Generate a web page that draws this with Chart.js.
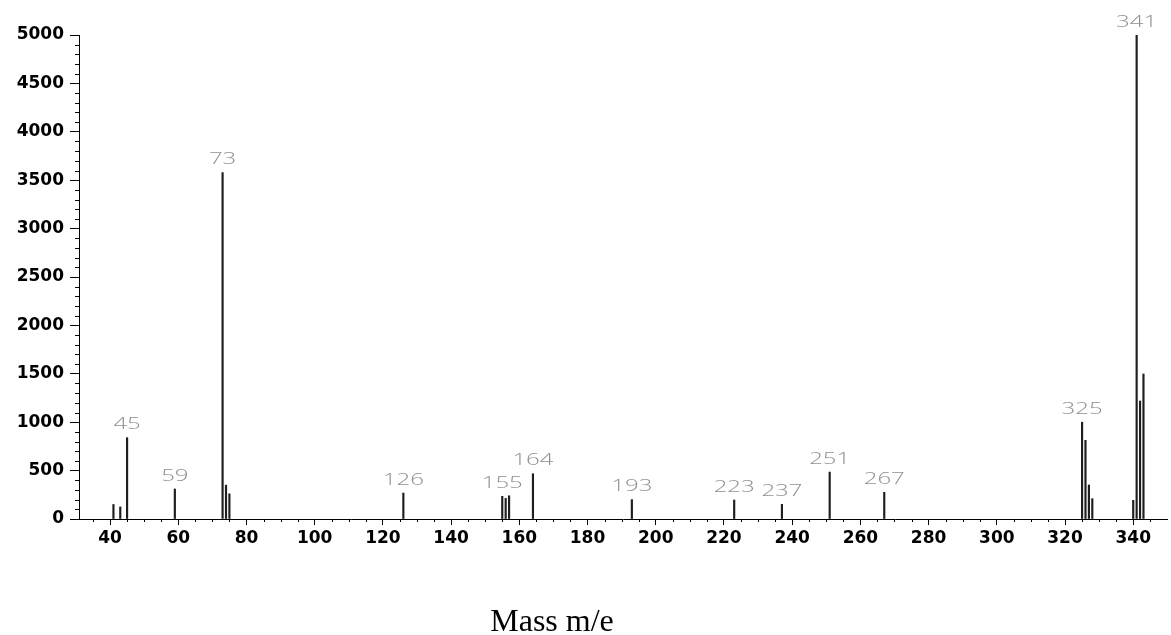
<!DOCTYPE html>
<html><head><meta charset="utf-8">
<script src="https://cdn.jsdelivr.net/npm/chart.js@4/dist/chart.umd.min.js"></script>
<style>html,body{margin:0;padding:0;background:#fff}#wrap{width:1171px;height:635px;position:relative}</style>
</head><body><div id="wrap"><canvas id="c" width="1171" height="635"></canvas></div>
<script>
// ---- data ----
const massValues  = [41, 43, 45, 59, 73, 74, 75, 126, 155, 156, 157, 164, 193, 223, 237, 251, 267, 325, 326, 327, 328, 340, 341, 342, 343];
const intensities = [150, 125, 840, 310, 3580, 350, 260, 268, 234, 213, 240, 468, 200, 196, 152, 485, 276, 1000, 813, 351, 210, 193, 5000, 1219, 1498];
const labelledMasses = [45, 59, 73, 126, 155, 164, 193, 223, 237, 251, 267, 325, 341];
const xTickLabels = [40, 60, 80, 100, 120, 140, 160, 180, 200, 220, 240, 260, 280, 300, 320, 340];
const yTickLabels = [0, 500, 1000, 1500, 2000, 2500, 3000, 3500, 4000, 4500, 5000];
const xTitle = 'Mass m/e';

const minorTicks = {
  id: 'minorTicks',
  afterDraw(chart) {
    const ctx = chart.ctx, xs = chart.scales.x, ys = chart.scales.y;
    ctx.save();
    ctx.strokeStyle = '#000'; ctx.lineWidth = 1;
    ctx.beginPath();
    for (let v = 35; v <= 345; v += 5) {
      if (v % 20 === 0) continue;
      const px = Math.round(xs.getPixelForValue(v)) + 0.5;
      ctx.moveTo(px, xs.top); ctx.lineTo(px, xs.top + 3);
    }
    for (let v = 100; v < 5000; v += 100) {
      if (v % 500 === 0) continue;
      const py = Math.round(ys.getPixelForValue(v)) + 0.5;
      ctx.moveTo(ys.right, py); ctx.lineTo(ys.right - 4, py);
    }
    ctx.stroke();
    ctx.restore();
  }
};

const peakLabels = {
  id: 'peakLabels',
  afterDatasetsDraw(chart) {
    const ctx = chart.ctx, xs = chart.scales.x, ys = chart.scales.y;
    ctx.save();
    ctx.fillStyle = '#8f8f8f';
    ctx.font = '300 16px "Open Sans"';
    ctx.textAlign = 'center';
    ctx.textBaseline = 'middle';
    labelledMasses.forEach(m => {
      const i = massValues.indexOf(m);
      const px = xs.getPixelForValue(m);
      const py = ys.getPixelForValue(intensities[i]) - 13;
      ctx.save();
      ctx.translate(px, py);
      ctx.scale(1.5, 1);
      ctx.fillText(String(m), 0, 0);
      ctx.restore();
    });
    ctx.restore();
  }
};

const axisTitle = {
  id: 'axisTitle',
  afterDraw(chart) {
    const ctx = chart.ctx;
    ctx.save();
    ctx.fillStyle = '#000';
    ctx.font = '32px "Liberation Serif"';
    ctx.textAlign = 'center';
    ctx.textBaseline = 'alphabetic';
    ctx.fillText(xTitle, 552, 631);
    ctx.restore();
  }
};

new Chart(document.getElementById('c'), {
  type: 'bar',
  data: {
    datasets: [{
      data: massValues.map((m, i) => ({ x: m, y: intensities[i] })),
      backgroundColor: '#1e1e1e',
      borderWidth: 0,
      barThickness: 1.5
    }]
  },
  options: {
    responsive: false,
    animation: false,
    devicePixelRatio: 1,
    layout: { padding: { top: 35, right: 4, left: 0, bottom: 0 } },
    plugins: { legend: { display: false }, tooltip: { enabled: false } },
    scales: {
      x: {
        type: 'linear',
        min: 30.9, max: 349.9,
        offset: false,
        afterBuildTicks: s => { s.ticks = xTickLabels.map(v => ({ value: v })); },
        afterFit: s => { s.height = 116; },
        ticks: { font: { family: 'DejaVu Sans', size: 17, weight: 'bold' }, color: '#000', padding: 3, maxRotation: 0, autoSkip: false, callback: v => String(v) },
        grid: { display: true, drawOnChartArea: false, drawTicks: true, tickLength: 6, color: '#000', offset: false },
        border: { display: true, color: '#000', width: 1 }
      },
      y: {
        type: 'linear',
        min: 0, max: 5000,
        afterBuildTicks: s => { s.ticks = yTickLabels.map(v => ({ value: v })); },
        afterFit: s => { s.width = 79; },
        ticks: { font: { family: 'DejaVu Sans', size: 17, weight: 'bold' }, color: '#000', padding: 6, callback: v => String(v) },
        grid: { display: true, drawOnChartArea: false, drawTicks: true, tickLength: 9, color: '#000' },
        border: { display: true, color: '#000', width: 1 }
      }
    }
  },
  plugins: [minorTicks, peakLabels, axisTitle]
});
</script>
</body></html>
